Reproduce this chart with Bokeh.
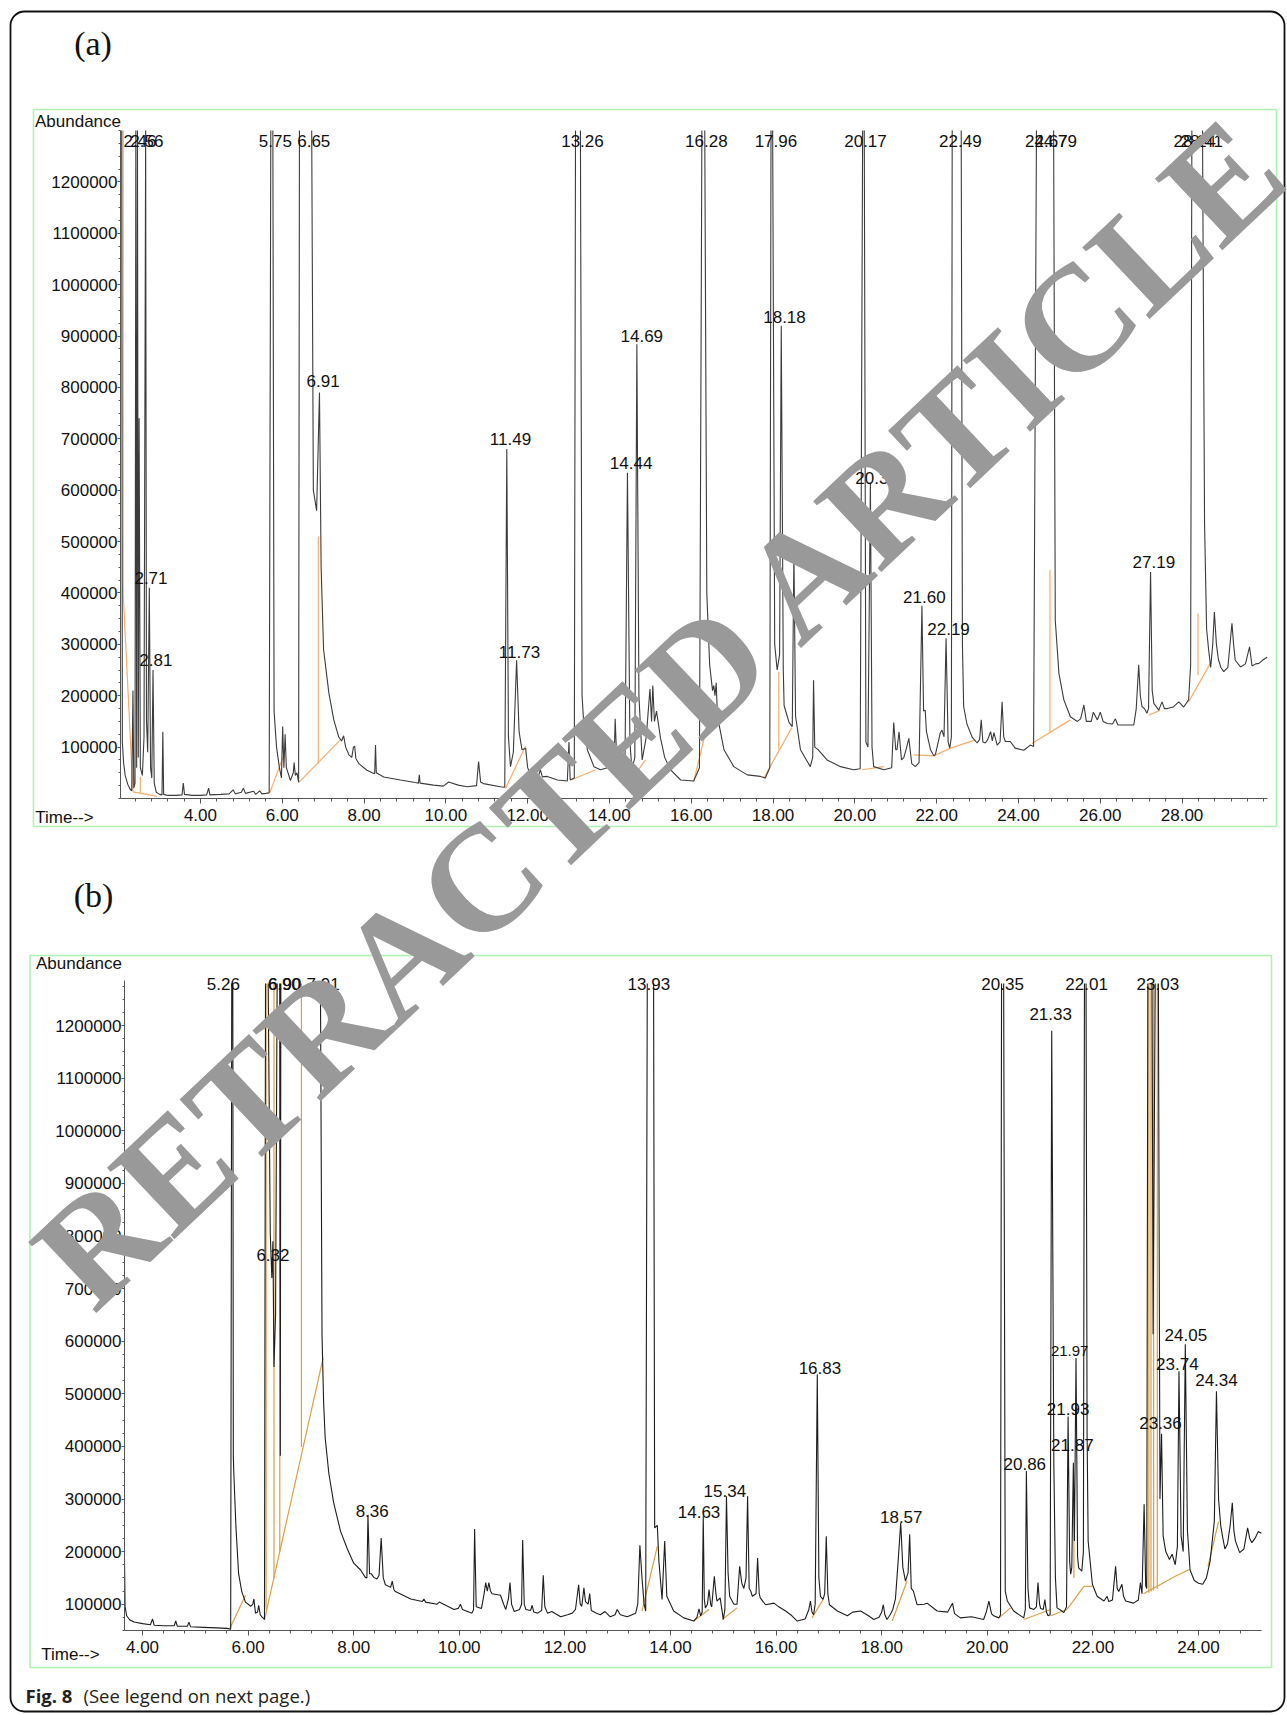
from bokeh.plotting import figure
from bokeh.models import (Range1d, FixedTicker, PrintfTickFormatter, Label, LinearAxis,
                          BoxAnnotation, ColumnDataSource)
from bokeh.core.properties import value
from bokeh.embed import file_html
from bokeh.resources import INLINE

# ------------------------------------------------------------------ data
# Panel (a): chromatogram trace (retention time in min, abundance); saturated peaks = 1300000
trace_a = [
    (2.045, 1300000), (2.075, 1300000), (2.09, 110000), (2.12, 70000), (2.16, 45000), (2.22, 28000),
    (2.28, 18000), (2.32, 15000), (2.35, 210000), (2.37, 20000), (2.40, 30000), (2.42, 1300000),
    (2.44, 60000), (2.46, 1300000), (2.48, 80000), (2.50, 740000), (2.53, 60000), (2.58, 45000),
    (2.62, 120000), (2.66, 1300000), (2.68, 150000), (2.71, 90000), (2.75, 410000), (2.78, 60000),
    (2.81, 40000), (2.84, 250000), (2.87, 30000), (2.92, 12000), (3.00, 8000), (3.06, 7000),
    (3.08, 130000), (3.10, 8000), (3.20, 6000), (3.40, 6000), (3.55, 7000), (3.58, 30000),
    (3.61, 8000), (3.80, 6000), (4.00, 6000), (4.15, 7000), (4.20, 20000), (4.23, 7000),
    (4.50, 8000), (4.70, 9000), (4.80, 17000), (4.85, 9000), (5.00, 12000), (5.05, 20000),
    (5.10, 10000), (5.30, 14000), (5.35, 8000), (5.45, 15000), (5.50, 9000), (5.60, 10000),
    (5.68, 11000), (5.72, 1300000), (5.77, 1300000), (5.80, 170000), (5.86, 100000), (5.93, 60000),
    (5.98, 40000), (6.01, 140000), (6.04, 60000), (6.07, 125000), (6.10, 60000), (6.20, 35000),
    (6.27, 50000), (6.29, 70000), (6.32, 45000), (6.36, 50000), (6.40, 32000), (6.42, 1300000),
    (6.72, 1300000), (6.76, 600000), (6.84, 560000), (6.91, 790000), (6.95, 450000), (7.01, 290000),
    (7.14, 205000), (7.26, 153000), (7.38, 120000), (7.45, 112000), (7.50, 122000), (7.55, 100000),
    (7.63, 85000), (7.70, 80000), (7.74, 100000), (7.77, 102000), (7.80, 78000), (7.87, 68000),
    (8.07, 55000), (8.20, 50000), (8.26, 48000), (8.28, 104000), (8.30, 50000), (8.48, 42000),
    (8.89, 36000), (9.25, 31000), (9.33, 30000), (9.35, 46000), (9.37, 30000), (9.70, 26000),
    (9.94, 24000), (10.07, 32000), (10.30, 26000), (10.52, 23000), (10.75, 25000), (10.80, 72000),
    (10.85, 32000), (10.92, 29000), (11.33, 23000), (11.44, 22000), (11.49, 680000), (11.53, 120000),
    (11.58, 62000), (11.65, 90000), (11.73, 269000), (11.79, 130000), (11.86, 95000), (11.95, 98000),
    (12.00, 60000), (12.11, 36000), (12.25, 40000), (12.31, 56000), (12.36, 42000), (12.48, 43000),
    (12.73, 36000), (12.97, 34000), (13.01, 110000), (13.04, 36000), (13.14, 40000), (13.17, 1300000),
    (13.29, 1300000), (13.33, 200000), (13.37, 148000), (13.46, 95000), (13.62, 62000), (13.78, 56000),
    (13.95, 60000), (14.11, 62000), (14.14, 155000), (14.18, 70000), (14.30, 60000), (14.38, 70000),
    (14.44, 634000), (14.50, 110000), (14.55, 56000), (14.62, 80000), (14.67, 884000), (14.72, 200000),
    (14.80, 75000), (14.90, 120000), (14.99, 213000), (15.03, 150000), (15.06, 220000), (15.10, 150000),
    (15.15, 170000), (15.25, 117000), (15.35, 80000), (15.49, 56000), (15.74, 36000), (16.06, 34000),
    (16.20, 60000), (16.26, 1300000), (16.33, 1300000), (16.38, 400000), (16.45, 260000), (16.52, 210000),
    (16.55, 220000), (16.58, 200000), (16.61, 225000), (16.64, 160000), (16.80, 95000), (17.04, 62000),
    (17.37, 46000), (17.69, 43000), (17.81, 40000), (17.92, 60000), (17.95, 1300000), (17.99, 1300000),
    (18.04, 300000), (18.10, 250000), (18.16, 280000), (18.20, 920000), (18.25, 250000), (18.27, 181000),
    (18.39, 148000), (18.47, 140000), (18.51, 480000), (18.55, 160000), (18.67, 95000), (18.91, 62000),
    (18.97, 80000), (18.99, 230000), (19.02, 100000), (19.10, 95000), (19.32, 75000), (19.65, 62000),
    (19.97, 56000), (20.13, 58000), (20.19, 1300000), (20.23, 1300000), (20.27, 110000), (20.32, 100000),
    (20.38, 615000), (20.42, 100000), (20.46, 62000), (20.71, 56000), (20.90, 60000), (20.95, 148000),
    (21.00, 95000), (21.03, 95000), (21.08, 130000), (21.14, 75000), (21.20, 80000), (21.27, 101000),
    (21.32, 117000), (21.39, 68000), (21.48, 62000), (21.57, 70000), (21.64, 375000), (21.68, 170000),
    (21.72, 172000), (21.75, 130000), (21.85, 95000), (21.93, 83000), (21.97, 86000), (22.09, 128000),
    (22.13, 133000), (22.18, 120000), (22.23, 312000), (22.28, 110000), (22.32, 98000), (22.36, 120000),
    (22.38, 1300000), (22.60, 1300000), (22.63, 300000), (22.66, 179000), (22.74, 145000), (22.87, 119000),
    (22.99, 108000), (23.05, 115000), (23.09, 153000), (23.13, 110000), (23.19, 108000), (23.25, 115000),
    (23.32, 130000), (23.36, 112000), (23.40, 128000), (23.48, 104000), (23.55, 110000), (23.60, 188000),
    (23.64, 120000), (23.68, 111000), (23.80, 111000), (23.92, 98000), (24.13, 94000), (24.29, 104000),
    (24.37, 101000), (24.44, 1300000), (24.86, 1300000), (24.90, 347000), (24.99, 243000), (25.11, 192000),
    (25.27, 159000), (25.44, 150000), (25.52, 155000), (25.60, 182000), (25.66, 150000), (25.78, 150000),
    (25.83, 168000), (25.93, 153000), (26.00, 168000), (26.07, 150000), (26.17, 146000), (26.30, 145000),
    (26.37, 155000), (26.43, 143000), (26.82, 143000), (26.88, 175000), (26.94, 260000), (26.98, 200000),
    (27.02, 179000), (27.08, 175000), (27.14, 166000), (27.18, 175000), (27.23, 441000), (27.27, 210000),
    (27.31, 185000), (27.43, 172000), (27.51, 188000), (27.57, 175000), (27.64, 175000), (27.78, 178000),
    (27.92, 188000), (28.04, 178000), (28.16, 192000), (28.21, 260000), (28.24, 1300000), (28.50, 1300000),
    (28.55, 535000), (28.60, 330000), (28.65, 289000), (28.70, 255000), (28.75, 300000), (28.79, 363000),
    (28.84, 300000), (28.89, 270000), (28.95, 255000), (29.02, 247000), (29.12, 255000), (29.22, 341000),
    (29.26, 300000), (29.30, 269000), (29.43, 256000), (29.55, 262000), (29.65, 295000), (29.71, 258000),
    (29.80, 262000), (29.88, 263000), (29.95, 268000), (30.04, 273000), (30.08, 275000),
]
# Panel (a): integration baselines (t0, v0, t1, v1)
baseline_a = [
    (2.11, 1300000, 2.11, 400000), (2.11, 400000, 2.35, 13000), (2.35, 13000, 2.94, 4000),
    (2.53, 42000, 2.53, 10000), (5.69, 10000, 6.02, 81000), (6.40, 31000, 7.42, 114000),
    (6.88, 510000, 6.88, 68000), (11.46, 20000, 11.95, 102000), (13.09, 37000, 13.66, 56000),
    (14.59, 43000, 14.88, 75000), (16.06, 33000, 16.51, 181000), (17.77, 39000, 18.46, 138000),
    (18.14, 246000, 18.14, 95000), (20.18, 56000, 20.71, 62000), (21.44, 85000, 21.93, 83000),
    (21.93, 83000, 22.34, 98000), (22.34, 98000, 22.95, 114000), (24.33, 107000, 25.27, 153000),
    (24.77, 445000, 24.77, 127000), (27.19, 162000, 27.47, 172000), (28.16, 188000, 28.69, 263000),
    (28.39, 360000, 28.39, 240000),
]
# Panel (a): peak labels (text, time at label centre, abundance at label centre)
peak_text_a = ["2.46", "2.56", "2.71", "2.81", "5.75", "6.65", "6.91", "11.49", "11.73", "13.26",
               "14.44", "14.69", "16.28", "17.96", "18.18", "20.17", "20.37", "21.60", "22.19",
               "22.49", "24.67", "24.79", "27.19", "28.24", "28.41"]
peak_time_a = [2.52, 2.69, 2.79, 2.91, 5.83, 6.77, 7.00, 11.58, 11.80, 13.34,
               14.53, 14.79, 16.37, 18.07, 18.28, 20.26, 20.53, 21.70, 22.29,
               22.58, 24.68, 24.91, 27.31, 28.31, 28.48]
peak_abund_a = [1279000, 1279000, 429000, 270000, 1279000, 1279000, 812000, 699000, 285000, 1279000,
                653000, 901000, 1279000, 1279000, 938000, 1279000, 623000, 393000, 330000,
                1279000, 1279000, 1279000, 460000, 1279000, 1279000]

# Panel (b): chromatogram trace; saturated peaks = 1280000
trace_b = [
    (3.659, 185000), (3.67, 95000), (3.70, 78000), (3.76, 70000), (3.84, 66000), (4.00, 63000),
    (4.15, 61000), (4.19, 72000), (4.22, 60000), (4.40, 59000), (4.60, 59000), (4.63, 68000),
    (4.66, 58000), (4.85, 58000), (4.88, 66000), (4.91, 57000), (5.16, 56000), (5.40, 55000),
    (5.60, 54000), (5.67, 52500), (5.69, 1280000), (5.71, 1280000), (5.72, 382000), (5.73, 348000),
    (5.77, 246000), (5.82, 158000), (5.88, 124000), (5.95, 104000), (6.05, 96000), (6.09, 100000),
    (6.11, 110000), (6.14, 83000), (6.18, 85000), (6.20, 98000), (6.23, 80000), (6.27, 75000),
    (6.31, 71000), (6.33, 1280000), (6.38, 1280000), (6.42, 803000), (6.45, 720000), (6.47, 790000),
    (6.49, 551000), (6.52, 650000), (6.55, 1280000), (6.60, 1280000), (6.61, 382000), (6.62, 1280000),
    (7.37, 1280000), (7.40, 612000), (7.43, 484000), (7.46, 416000), (7.53, 348000), (7.62, 293000),
    (7.75, 239000), (7.88, 205000), (8.00, 178000), (8.13, 165000), (8.22, 151000), (8.25, 150000),
    (8.27, 270000), (8.30, 158000), (8.33, 158000), (8.38, 151000), (8.44, 148000), (8.48, 155000),
    (8.52, 226000), (8.56, 150000), (8.60, 137000), (8.70, 132000), (8.73, 144000), (8.76, 128000),
    (8.79, 124000), (9.08, 110000), (9.30, 105000), (9.33, 110000), (9.36, 104000), (9.58, 100000),
    (9.62, 104000), (9.90, 90000), (9.98, 92000), (10.02, 100000), (10.06, 90000), (10.24, 83000),
    (10.27, 90000), (10.29, 243000), (10.32, 95000), (10.42, 92000), (10.47, 120000), (10.50, 141000),
    (10.53, 125000), (10.56, 141000), (10.59, 125000), (10.62, 120000), (10.78, 117000), (10.84, 100000),
    (10.88, 90000), (10.93, 110000), (10.96, 141000), (10.99, 100000), (11.04, 86000), (11.14, 90000),
    (11.18, 100000), (11.20, 222000), (11.23, 100000), (11.26, 90000), (11.35, 88000), (11.38, 98000),
    (11.41, 85000), (11.48, 83000), (11.56, 88000), (11.59, 155000), (11.62, 95000), (11.67, 83000),
    (11.75, 86000), (11.92, 76000), (12.05, 80000), (12.14, 83000), (12.20, 90000), (12.26, 137000),
    (12.29, 100000), (12.32, 96000), (12.36, 131000), (12.39, 105000), (12.44, 100000), (12.47, 120000),
    (12.50, 88000), (12.60, 83000), (12.67, 80000), (12.76, 86000), (12.86, 76000), (12.95, 80000),
    (12.99, 90000), (13.05, 80000), (13.18, 76000), (13.34, 83000), (13.38, 100000), (13.42, 212000),
    (13.46, 150000), (13.50, 100000), (13.53, 87000), (13.56, 1280000), (13.68, 1280000), (13.70, 245000),
    (13.75, 250000), (13.78, 182000), (13.84, 109000), (13.89, 220000), (13.93, 115000), (14.06, 87000),
    (14.25, 74000), (14.44, 68000), (14.50, 75000), (14.54, 91000), (14.57, 78000), (14.60, 85000),
    (14.62, 267000), (14.64, 110000), (14.66, 93000), (14.70, 100000), (14.73, 128000), (14.76, 100000),
    (14.78, 95000), (14.83, 153000), (14.86, 120000), (14.88, 106000), (14.94, 112000), (15.00, 71000),
    (15.03, 90000), (15.06, 305000), (15.09, 160000), (15.12, 115000), (15.20, 100000), (15.26, 100000),
    (15.31, 172000), (15.35, 140000), (15.39, 130000), (15.43, 150000), (15.46, 305000), (15.49, 130000),
    (15.52, 125000), (15.55, 115000), (15.62, 120000), (15.65, 188000), (15.68, 120000), (15.70, 112000),
    (15.80, 99000), (15.96, 102000), (16.05, 95000), (16.18, 87000), (16.30, 78000), (16.40, 68000),
    (16.55, 72000), (16.62, 90000), (16.65, 106000), (16.68, 85000), (16.71, 80000), (16.74, 100000),
    (16.78, 537000), (16.81, 150000), (16.84, 115000), (16.89, 109000), (16.92, 120000), (16.95, 229000),
    (16.98, 120000), (17.01, 99000), (17.16, 87000), (17.35, 78000), (17.45, 85000), (17.60, 87000),
    (17.75, 78000), (17.85, 71000), (17.95, 75000), (18.00, 85000), (18.03, 99000), (18.06, 80000),
    (18.10, 71000), (18.16, 80000), (18.21, 90000), (18.26, 110000), (18.31, 180000), (18.36, 255000),
    (18.40, 170000), (18.45, 144000), (18.50, 160000), (18.53, 233000), (18.56, 130000), (18.60, 125000),
    (18.67, 99000), (18.80, 100000), (18.86, 102000), (19.05, 87000), (19.25, 85000), (19.34, 102000),
    (19.38, 82000), (19.49, 74000), (19.70, 76000), (19.93, 71000), (19.98, 85000), (20.03, 106000),
    (20.08, 82000), (20.12, 78000), (20.22, 74000), (20.25, 80000), (20.27, 1280000), (20.31, 1280000),
    (20.34, 125000), (20.38, 106000), (20.50, 87000), (20.69, 74000), (20.72, 90000), (20.74, 353000),
    (20.77, 130000), (20.80, 93000), (20.88, 90000), (20.93, 95000), (20.96, 141000), (20.99, 100000),
    (21.01, 92000), (21.06, 90000), (21.09, 109000), (21.12, 85000), (21.15, 78000), (21.19, 80000),
    (21.22, 1190000), (21.26, 366000), (21.29, 150000), (21.32, 93000), (21.40, 88000), (21.45, 84000),
    (21.50, 95000), (21.53, 457000), (21.56, 180000), (21.58, 157000), (21.60, 170000), (21.63, 369000),
    (21.65, 220000), (21.68, 568000), (21.71, 190000), (21.73, 169000), (21.79, 163000), (21.82, 200000),
    (21.84, 1280000), (21.87, 1280000), (21.89, 423000), (21.91, 220000), (21.99, 138000), (22.08, 115000),
    (22.21, 106000), (22.27, 115000), (22.30, 105000), (22.37, 108000), (22.43, 172000), (22.46, 130000),
    (22.49, 124000), (22.55, 138000), (22.58, 115000), (22.62, 106000), (22.77, 102000), (22.86, 108000),
    (22.90, 141000), (22.93, 120000), (22.97, 290000), (23.00, 135000), (23.02, 130000), (23.04, 1280000),
    (23.12, 1280000), (23.14, 613000), (23.18, 1280000), (23.24, 1280000), (23.27, 300000), (23.30, 424000),
    (23.33, 230000), (23.38, 200000), (23.45, 185000), (23.50, 195000), (23.56, 175000), (23.60, 210000),
    (23.63, 543000), (23.67, 230000), (23.71, 200000), (23.75, 594000), (23.79, 240000), (23.84, 165000),
    (23.92, 145000), (24.00, 140000), (24.08, 138000), (24.15, 150000), (24.22, 182000), (24.30, 258000),
    (24.34, 505000), (24.38, 300000), (24.42, 250000), (24.46, 226000), (24.50, 205000), (24.55, 215000),
    (24.60, 250000), (24.64, 293000), (24.67, 240000), (24.70, 220000), (24.78, 198000), (24.86, 205000),
    (24.93, 245000), (24.97, 225000), (25.01, 217000), (25.07, 225000), (25.13, 238000), (25.19, 235000),
]
baseline_b = [
    (5.65, 52700, 5.95, 117000), (6.34, 1280000, 6.34, 90000), (6.49, 1280000, 6.49, 149000),
    (6.60, 1280000, 6.60, 200000), (7.01, 1280000, 7.01, 399000), (6.31, 70000, 7.42, 568000),
    (13.46, 87000, 13.75, 210000), (14.44, 68000, 14.73, 90000), (14.98, 71000, 15.26, 93000),
    (16.68, 74000, 16.89, 109000), (18.20, 68000, 18.48, 144000), (20.22, 74000, 20.44, 93000),
    (20.69, 71000, 21.20, 90000), (21.20, 78000, 21.51, 90000), (21.51, 90000, 21.83, 134000),
    (21.64, 290000, 21.64, 150000), (21.83, 134000, 21.99, 134000), (22.96, 120000, 23.56, 153000),
    (23.56, 153000, 23.83, 166000), (23.06, 1280000, 23.06, 122000), (23.10, 1280000, 23.10, 124000),
    (23.15, 1280000, 23.15, 126000), (23.22, 1280000, 23.22, 130000), (24.18, 172000, 24.38, 257000),
]
peak_text_b = ["5.26", "6.90", "6.90", "7.91", "6.32", "8.36", "13.93", "14.63", "15.34", "16.83",
               "18.57", "20.35", "20.86", "21.33", "21.93", "21.87", "21.97", "22.01", "23.03",
               "23.36", "23.74", "24.05", "24.34"]
peak_time_b = [5.53, 6.685, 6.695, 7.42, 6.47, 8.35, 13.59, 14.54, 15.03, 16.83,
               18.37, 20.29, 20.71, 21.20, 21.53, 21.61, 21.56, 21.88, 23.23,
               23.28, 23.60, 23.76, 24.34]
peak_abund_b = [1279000, 1279000, 1279000, 1279000, 764000, 278000, 1279000, 275000, 316000, 550000,
                265000, 1279000, 367000, 1222000, 471000, 402000, 582000, 1279000, 1279000,
                444000, 556000, 611000, 527000]

y_tick_values = [100000 * i for i in range(1, 13)]
x_tick_values = [4, 6, 8, 10, 12, 14, 16, 18, 20, 22, 24, 26, 28]

# ------------------------------------------------------------------ geometry / style
W, H = 1287, 1715
FONT = "Liberation Sans"
# panel frames in page pixels and their data extents
GEO = {
    "a": dict(fl=120, fr=1267, ft=130, fb=798, t0=2.045, t1=2.045 + 1147 / 40.9, v0=0, v1=1300000),
    "b": dict(fl=124, fr=1261, ft=980, fb=1630, t0=3.659, t1=3.659 + 1137 / 52.8,
              v0=50000, v1=50000 + 650 / 0.000526),
}

p = figure(width=W, height=H, x_range=Range1d(0, W), y_range=Range1d(H, 0),
           output_backend="svg", toolbar_location=None, x_axis_location=None,
           y_axis_location=None, min_border=0, min_border_left=0, min_border_right=0,
           min_border_top=0, min_border_bottom=0, title=None)
p.grid.visible = False
p.outline_line_color = None
p.background_fill_color = "white"
p.border_fill_color = "white"

for key, g in GEO.items():
    sx = (g["t1"] - g["t0"]) / (g["fr"] - g["fl"])      # minutes per pixel
    sy = (g["v1"] - g["v0"]) / (g["fb"] - g["ft"])      # abundance per pixel
    p.extra_x_ranges["t" + key] = Range1d(g["t0"] - g["fl"] * sx, g["t0"] + (W - g["fl"]) * sx)
    p.extra_y_ranges["v" + key] = Range1d(g["v0"] - (H - g["fb"]) * sy, g["v0"] + g["fb"] * sy)


def style_axis(ax, tick_out, minor_out, standoff):
    ax.axis_line_color = "#555555"
    ax.major_tick_line_color = "#555555"
    ax.minor_tick_line_color = "#555555"
    ax.major_label_text_font = FONT
    ax.major_label_text_font_size = "17px"
    ax.major_label_text_color = "#111111"
    ax.major_tick_in = 0
    ax.minor_tick_in = 0
    ax.major_tick_out = tick_out
    ax.minor_tick_out = minor_out
    ax.major_label_standoff = standoff


def split_saturated(trace):
    """Break the line where the signal runs off-scale, so the clipped top is not drawn."""
    top = max(v for _, v in trace)
    xs, ys, prev = [], [], False
    for t, v in trace:
        sat = v >= top
        if sat and prev:
            xs.append(float("nan"))
            ys.append(float("nan"))
        xs.append(t)
        ys.append(v)
        prev = sat
    return xs, ys


def add_panel(key, trace, base, ptext, ptime, pab, trace_color, base_color, small=()):
    g = GEO[key]
    xr, yr = "t" + key, "v" + key
    minor_x = [round(2.0 + 0.4 * i, 2) for i in range(0, 80)]
    minor_x = [m for m in minor_x if g["t0"] <= m <= g["t1"]]
    xa = LinearAxis(x_range_name=xr, y_range_name=yr, fixed_location=g["v0"],
                    bounds=(g["t0"], g["t1"]),
                    ticker=FixedTicker(ticks=x_tick_values, minor_ticks=minor_x),
                    formatter=PrintfTickFormatter(format="%.2f"))
    style_axis(xa, 5, 3, 5)
    p.add_layout(xa, "below")
    minor_y = [25000 * i for i in range(0, 60) if g["v0"] <= 25000 * i <= g["v1"]]
    ya = LinearAxis(x_range_name=xr, y_range_name=yr, fixed_location=g["t0"],
                    bounds=(g["v0"], g["v1"]),
                    ticker=FixedTicker(ticks=y_tick_values, minor_ticks=minor_y),
                    formatter=PrintfTickFormatter(format="%d"))
    style_axis(ya, 3, 2, 0)
    p.add_layout(ya, "left")

    p.segment(x0=[s[0] for s in base], y0=[s[1] for s in base],
              x1=[s[2] for s in base], y1=[s[3] for s in base],
              line_color=base_color, line_width=1.2, x_range_name=xr, y_range_name=yr)
    xs, ys = split_saturated(trace)
    p.line(xs, ys, line_color=trace_color, line_width=1.1, x_range_name=xr, y_range_name=yr)
    sizes = ["15px" if s in small else "17px" for s in ptext]
    src = ColumnDataSource(dict(t=ptime, v=pab, text=ptext, size=sizes))
    p.text(x="t", y="v", text="text", source=src, text_align="center", text_baseline="middle",
           text_font=value(FONT), text_font_size="size", text_color="#111111",
           x_range_name=xr, y_range_name=yr)


add_panel("a", trace_a, baseline_a, peak_text_a, peak_time_a, peak_abund_a, "#3c3c3c", "#f7ad6c")
add_panel("b", trace_b, baseline_b, peak_text_b, peak_time_b, peak_abund_b, "#1e1e1e", "#d9a046",
          small=("21.97",))

# ------------------------------------------------------------------ page decorations (page px)
p.add_layout(BoxAnnotation(left=10, right=1284, top=11, bottom=1711, fill_color=None,
                           fill_alpha=0, line_color="#111111", line_alpha=1.0, line_dash="solid",
                           line_width=1.8, border_radius=14))
GREEN = "#b0f2b0"
for (l, t, r, b) in ((33, 109, 1276, 826), (29.5, 955, 1271, 1667)):
    p.add_layout(BoxAnnotation(left=l, right=r, top=t, bottom=b, fill_color=None, fill_alpha=0,
                               line_color=GREEN, line_alpha=1.0, line_dash="solid",
                               line_width=1.6))


def add_label(X, Y, text, size="17px", font=FONT, align="center", style="normal",
              color="#111111", angle=0.0):
    p.add_layout(Label(x=X, y=Y, text=text, text_align=align, text_baseline="middle",
                       text_font=font, text_font_size=size, text_font_style=style,
                       text_color=color, angle=angle))


add_label(92.5, 43, "(a)", size="34px", font="Liberation Serif")
add_label(93, 895, "(b)", size="34px", font="Liberation Serif")
add_label(77.5, 120.5, "Abundance")
add_label(78.5, 963, "Abundance")
add_label(64, 816.5, "Time-->")
add_label(70, 1654, "Time-->")
add_label(25, 1695, "Fig. 8", size="18.5px", font="Open Sans", style="bold", align="left",
          color="#231f20")
add_label(83, 1695, "(See legend on next page.)", size="18.5px", font="Open Sans", align="left",
          color="#231f20")

# watermark
add_label(661, 709, "RETRACTED ARTICLE", size="150px", font="Liberation Serif", style="bold",
          color="#999999", angle=0.7565)

html = file_html(p, INLINE, title="Fig. 8")
html = html.replace("<body>", '<body style="margin:0;padding:0;">', 1)
open("out.html", "w").write(html)
